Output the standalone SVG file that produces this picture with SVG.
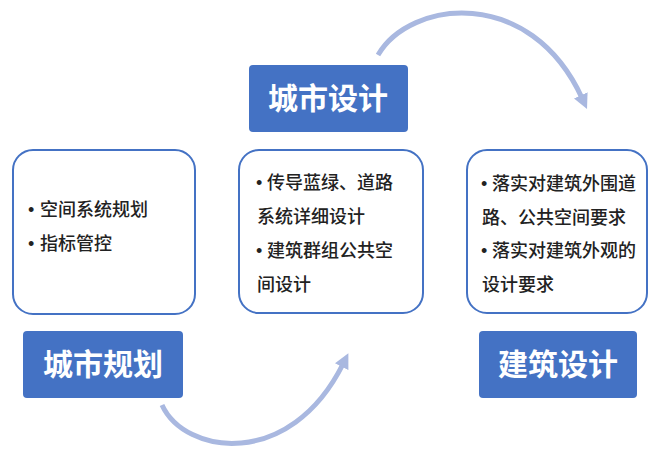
<svg xmlns="http://www.w3.org/2000/svg" width="651" height="450" viewBox="0 0 651 450">
<defs>
<style>
.box{fill:#ffffff;stroke:#4472c4;stroke-width:2}
.title{fill:#4472c4}
.tt{font-family:"Noto Sans CJK SC","Liberation Sans",sans-serif;font-size:30px;font-weight:700;fill:#ffffff;text-anchor:middle}
.bt{font-family:"Noto Sans CJK SC","Liberation Sans",sans-serif;font-size:18px;font-weight:500;fill:#222222}
.bu{font-family:"Liberation Sans",sans-serif;font-size:18px;fill:#222222}
.arc{fill:none;stroke:#a9b8e0;stroke-width:5;stroke-linecap:butt}
</style>
<marker id="ah" viewBox="0 0 10 10" refX="2" refY="5" markerWidth="3" markerHeight="3" orient="auto">
<path d="M0,0 L10,5 L0,10 Z" fill="#a9b8e0"/>
</marker>
</defs>
<rect width="651" height="450" fill="#ffffff"/>
<g id="connectors">
<path class="arc" d="M378,55 C410,0 530,-15 582,98" marker-end="url(#ah)"/>
<path class="arc" d="M162,405 C185,455 290,470 343,364" marker-end="url(#ah)"/>
</g>
<g id="node-plan-box">
<rect class="box" x="13" y="150" width="182" height="164" rx="20"/>
<text class="bu" x="28" y="216">•</text>
<text class="bt" x="40" y="216">空间系统规划</text>
<text class="bu" x="28" y="250">•</text>
<text class="bt" x="40" y="250">指标管控</text>
</g>
<g id="node-plan-title">
<rect class="title" x="23" y="331" width="160" height="67" rx="4"/>
<text class="tt" x="103" y="375">城市规划</text>
</g>
<g id="node-urban-title">
<rect class="title" x="249" y="65" width="159" height="67" rx="4"/>
<text class="tt" x="328" y="109">城市设计</text>
</g>
<g id="node-urban-box">
<rect class="box" x="239" y="150" width="184" height="163" rx="20"/>
<text class="bu" x="256" y="189">•</text>
<text class="bt" x="267" y="189">传导蓝绿、道路</text>
<text class="bt" x="257" y="223">系统详细设计</text>
<text class="bu" x="256" y="257">•</text>
<text class="bt" x="267" y="257">建筑群组公共空</text>
<text class="bt" x="257" y="291">间设计</text>
</g>
<g id="node-arch-box">
<rect class="box" x="467" y="150" width="180" height="163" rx="20"/>
<text class="bu" x="481" y="190">•</text>
<text class="bt" x="492" y="190">落实对建筑外围道</text>
<text class="bt" x="482" y="224">路、公共空间要求</text>
<text class="bu" x="481" y="257">•</text>
<text class="bt" x="492" y="257">落实对建筑外观的</text>
<text class="bt" x="482" y="291">设计要求</text>
</g>
<g id="node-arch-title">
<rect class="title" x="479" y="331" width="158" height="67" rx="4"/>
<text class="tt" x="558" y="375">建筑设计</text>
</g>
</svg>
